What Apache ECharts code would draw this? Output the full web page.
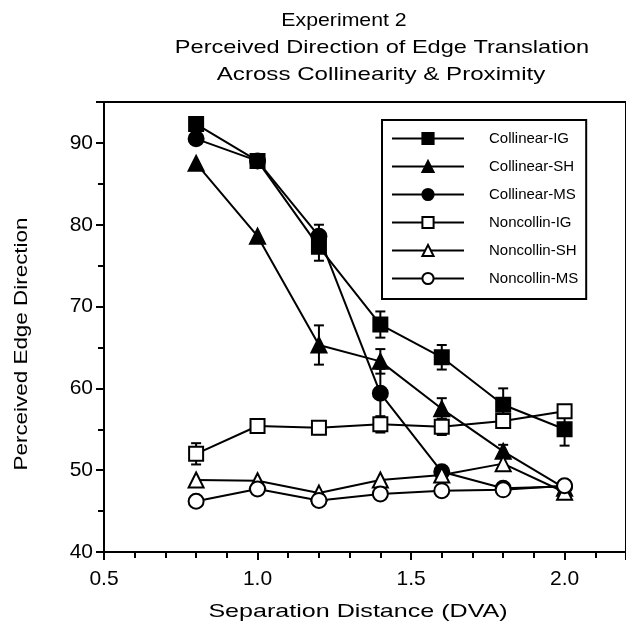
<!DOCTYPE html>
<html>
<head>
<meta charset="utf-8">
<script src="https://cdn.jsdelivr.net/npm/echarts@6/dist/echarts.min.js"></script>
<style>html,body{margin:0;padding:0;background:#fff}#c{width:626px;height:632px}</style>
</head>
<body>
<div id="c"></div>
<script>
const xValues = [0.8, 1.0, 1.2, 1.4, 1.6, 1.8, 2.0];
const seriesNames = ['Collinear-IG', 'Collinear-SH', 'Collinear-MS', 'Noncollin-IG', 'Noncollin-SH', 'Noncollin-MS'];
const colIG = [92.3, 87.8, 77.3, 67.8, 63.8, 58.0, 55.0];
const colSH = [87.5, 78.6, 65.3, 63.3, 57.5, 52.3, 47.8];
const colMS = [90.5, 87.8, 78.6, 59.4, 49.8, 47.8, 48.0];
const ncIG = [52.0, 55.4, 55.2, 55.6, 55.3, 56.0, 57.2];
const ncSH = [48.8, 48.7, 47.2, 48.8, 49.4, 50.8, 47.3];
const ncMS = [46.2, 47.7, 46.3, 47.1, 47.5, 47.6, 48.1];
const errColIG = [null, null, 1.7, 1.6, 1.5, 2.0, 2.0];
const errColSH = [null, null, 2.4, 1.5, 1.3, 0.8, null];
const errColMS = [null, null, 1.4, 3.0, null, null, null];
const errNcIG = [1.3, null, 0.8, 1.0, 1.0, null, null];
const errNcSH = [null, null, null, null, null, null, null];
const errNcMS = [null, null, null, null, null, null, 0.6];
const xTickLabels = ['0.5', '1.0', '1.5', '2.0'];
const yTickLabels = ['40', '50', '60', '70', '80', '90'];
const titleLines = ['Experiment 2', 'Perceived Direction of Edge Translation', 'Across Collinearity & Proximity'];
const xAxisTitle = 'Separation Distance (DVA)';
const yAxisTitle = 'Perceived Edge Direction';

const values = [colIG, colSH, colMS, ncIG, ncSH, ncMS];
const errors = [errColIG, errColSH, errColMS, errNcIG, errNcSH, errNcMS];
const symbols = ['rect', 'triangle', 'circle', 'rect', 'triangle', 'circle'];
const filled = [true, true, true, false, false, false];
const sizes = [14, 15, 15, 14, 15, 15];

const series = [];
values.forEach(function (vals, i) {
  const errData = [];
  vals.forEach(function (v, j) {
    if (errors[i][j] != null) errData.push([xValues[j], v, errors[i][j]]);
  });
  series.push({
    type: 'custom',
    silent: true,
    z: 1,
    data: errData,
    renderItem: function (params, api) {
      const x = api.value(0), y = api.value(1), e = api.value(2);
      const top = api.coord([x, y + e]);
      const bot = api.coord([x, y - e]);
      const cap = 5;
      const st = { stroke: '#000', lineWidth: 2 };
      return {
        type: 'group',
        children: [
          { type: 'line', shape: { x1: top[0], y1: top[1], x2: bot[0], y2: bot[1] }, style: st },
          { type: 'line', shape: { x1: top[0] - cap, y1: top[1], x2: top[0] + cap, y2: top[1] }, style: st },
          { type: 'line', shape: { x1: bot[0] - cap, y1: bot[1], x2: bot[0] + cap, y2: bot[1] }, style: st }
        ]
      };
    }
  });
});
values.forEach(function (vals, i) {
  series.push({
    type: 'line',
    name: seriesNames[i],
    data: vals.map(function (v, j) { return [xValues[j], v]; }),
    symbol: symbols[i],
    symbolSize: sizes[i],
    showAllSymbol: true,
    z: 3 + i,
    lineStyle: { color: '#000', width: 2 },
    itemStyle: { color: filled[i] ? '#000' : '#fff', borderColor: '#000', borderWidth: 2, opacity: 1 },
    emphasis: { disabled: true }
  });
});

const chart = echarts.init(document.getElementById('c'), null, { renderer: 'canvas' });
chart.setOption({
  animation: false,
  backgroundColor: '#fff',
  textStyle: { fontFamily: 'Liberation Sans', color: '#000' },
  grid: { left: 104, right: -2, top: 102, bottom: 80, show: true, borderColor: '#000', borderWidth: 2 },
  xAxis: {
    type: 'value', min: 0.5, max: 2.2, interval: 0.5,
    axisLine: { show: true, lineStyle: { color: '#000', width: 2 } },
    axisTick: { show: true, length: 8, lineStyle: { color: '#000', width: 2 } },
    minorTick: { show: true, splitNumber: 5, length: 6, lineStyle: { color: '#000', width: 2 } },
    splitLine: { show: false },
    axisLabel: {
      color: '#000', fontSize: 21, fontFamily: 'Liberation Sans', margin: 17, showMaxLabel: false,
      formatter: function (v) { const k = Math.round((v - 0.5) / 0.5); return xTickLabels[k] || ''; }
    }
  },
  yAxis: {
    type: 'value', min: 40, max: 95, interval: 10,
    axisLine: { show: true, lineStyle: { color: '#000', width: 2 } },
    axisTick: { show: true, length: 8, lineStyle: { color: '#000', width: 2 } },
    minorTick: { show: true, splitNumber: 2, length: 6, lineStyle: { color: '#000', width: 2 } },
    splitLine: { show: false },
    axisLabel: {
      color: '#000', fontSize: 21, fontFamily: 'Liberation Sans', margin: 11, showMaxLabel: false,
      formatter: function (v) { const k = Math.round((v - 40) / 10); return yTickLabels[k] || ''; }
    }
  },
  legend: {
    show: true,
    orient: 'vertical',
    left: 382, top: 120,
    padding: [11, 8, 13, 9],
    itemGap: 13,
    itemWidth: 72, itemHeight: 14,
    borderColor: '#000', borderWidth: 2,
    selectedMode: false,
    data: seriesNames,
    textStyle: { color: '#000', fontSize: 15, fontFamily: 'Liberation Sans', padding: [0, 0, 0, 20] }
  },
  graphic: [
    { type: 'text', x: 344, y: 21, scaleX: 1.12, style: { text: titleLines[0], font: '19px "Liberation Sans"', fill: '#000', textAlign: 'center', textVerticalAlign: 'middle' } },
    { type: 'text', x: 382, y: 48, scaleX: 1.24, style: { text: titleLines[1], font: '19px "Liberation Sans"', fill: '#000', textAlign: 'center', textVerticalAlign: 'middle' } },
    { type: 'text', x: 381, y: 75, scaleX: 1.27, style: { text: titleLines[2], font: '19px "Liberation Sans"', fill: '#000', textAlign: 'center', textVerticalAlign: 'middle' } },
    { type: 'text', x: 358, y: 612, scaleX: 1.32, style: { text: xAxisTitle, font: '19px "Liberation Sans"', fill: '#000', textAlign: 'center', textVerticalAlign: 'middle' } },
    { type: 'text', x: 22, y: 344, rotation: Math.PI / 2, scaleX: 1.18, style: { text: yAxisTitle, font: '19px "Liberation Sans"', fill: '#000', textAlign: 'center', textVerticalAlign: 'middle' } }
  ],
  series: series
});
</script>
</body>
</html>
